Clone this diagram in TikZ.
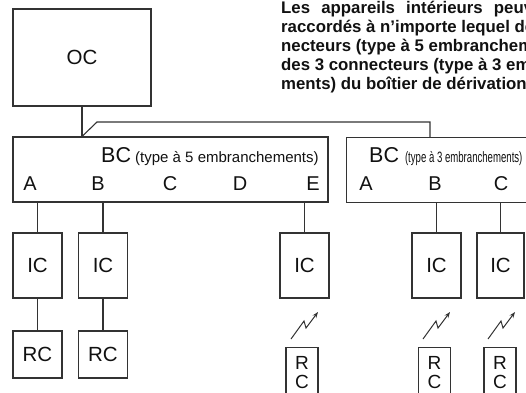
\documentclass[tikz,border=0pt]{standalone}
\usepackage{fontspec}
\setmainfont{Liberation Sans}
\usetikzlibrary{arrows.meta}
\definecolor{lc}{HTML}{333333}
\definecolor{tc}{HTML}{111111}
\begin{document}
\begin{tikzpicture}[x=1pt,y=-1pt]
\tikzset{
  box/.style={draw=lc, line width=1.1pt, inner sep=0pt, text=tc,
    minimum width=49pt, minimum height=65pt, font=\fontsize{20.5}{20.5}\selectfont},
  conn/.style={draw=lc, line width=1.1pt},
  zap/.style={draw=lc, line width=1pt, -{Stealth[length=6pt,width=4.5pt]}},
  port/.style={text=tc, anchor=base, inner sep=0pt, font=\fontsize{20}{20}\selectfont},
  para/.style={text=tc, anchor=base west, inner sep=0pt, font=\bfseries\fontsize{16.8}{19}\selectfont},
  narrow/.style={draw=lc, line width=1.1pt, inner xsep=0pt, inner ysep=9pt, text=tc,
    minimum width=32pt, anchor=north, align=center, font=\fontsize{19}{19}\selectfont}
}
\path[use as bounding box] (0,0) rectangle (526,392);
\clip (0,0) rectangle (526,392);

% explanatory text
\node[para] (p1) at (281,13) {\makebox[252pt][s]{Les appareils intérieurs peuv}};
\node[para] (p2) at (281,32) {raccordés à n’importe lequel de};
\node[para] (p3) at (281,51) {necteurs (type à 5 embranchem};
\node[para] (p4) at (281,70) {des 3 connecteurs (type à 3 em};
\node[para] (p5) at (281,89) {ments) du boîtier de dérivation};

% outdoor unit
\node[box, minimum width=138pt, minimum height=97pt] (oc) at (82,57.5) {OC};

% branch boxes
\node[box, minimum width=315pt, minimum height=65pt] (bc1) at (170.5,169.5) {};
\node[box, minimum width=200pt, minimum height=65pt, anchor=north west] (bc2) at (346,137) {};

\node[text=tc, anchor=base west, inner sep=0pt] (bc1t) at (101,162)
  {\fontsize{21.5}{21.5}\selectfont BC\fontsize{15}{15}\selectfont\ (type à 5 embranchements)};
\node[text=tc, anchor=base west, inner sep=0pt] (bc2t) at (369,162)
  {\fontsize{21.5}{21.5}\selectfont BC\ \fontsize{15}{15}\selectfont\scalebox{0.64}[1]{(type à 3 embranchements)}};

\node[port] (a1) at (30,190) {A};
\node[port] (b1) at (98,190) {B};
\node[port] (c1) at (170,190) {C};
\node[port] (d1) at (240,190) {D};
\node[port] (e1) at (313,190) {E};
\node[port] (a2) at (366,190) {A};
\node[port] (b2) at (435,190) {B};
\node[port] (c2) at (501,190) {C};

% indoor units
\node[box] (ic1) at (37.5,265.5) {IC};
\node[box] (ic2) at (103,265.5) {IC};
\node[box] (ic3) at (304.5,265.5) {IC};
\node[box] (ic4) at (436.5,265.5) {IC};
\node[box, minimum width=47pt] (ic5) at (500.5,265.5) {IC};

% remote controllers
\node[box, minimum height=47pt] (rc1) at (37.5,354.5) {RC};
\node[box, minimum height=47pt] (rc2) at (103,354.5) {RC};
\node[narrow] (rc3) at (302,347) {R\\C};
\node[narrow] (rc4) at (434.5,347) {R\\C};
\node[narrow] (rc5) at (500,347) {R\\C};

% connectors
\coordinate (j) at (oc.south |- bc1.north);
\coordinate (k) at (97,122);
\coordinate (t2) at (430,137);
\draw[conn] (oc.south) -- (j);
\draw[conn] (j) -- (k) -| (t2);

\draw[conn] (ic1.north) -- (ic1.north |- bc1.south);
\draw[conn] (ic2.north) -- (ic2.north |- bc1.south);
\draw[conn] (ic3.north) -- (ic3.north |- bc1.south);
\draw[conn] (ic4.north) -- (ic4.north |- bc2.south);
\draw[conn] (ic5.north) -- (ic5.north |- bc2.south);
\draw[conn] (ic1) -- (rc1);
\draw[conn] (ic2) -- (rc2);

% wireless links
\coordinate (z3) at (291,339);
\coordinate (z4) at (423,339);
\coordinate (z5) at (488,339);
\draw[zap] (z3) -- ++(13,-18) -- ++(2,7) -- ++(12,-16);
\draw[zap] (z4) -- ++(13,-18) -- ++(2,7) -- ++(12,-16);
\draw[zap] (z5) -- ++(13,-18) -- ++(2,7) -- ++(12,-16);
\end{tikzpicture}
\end{document}
